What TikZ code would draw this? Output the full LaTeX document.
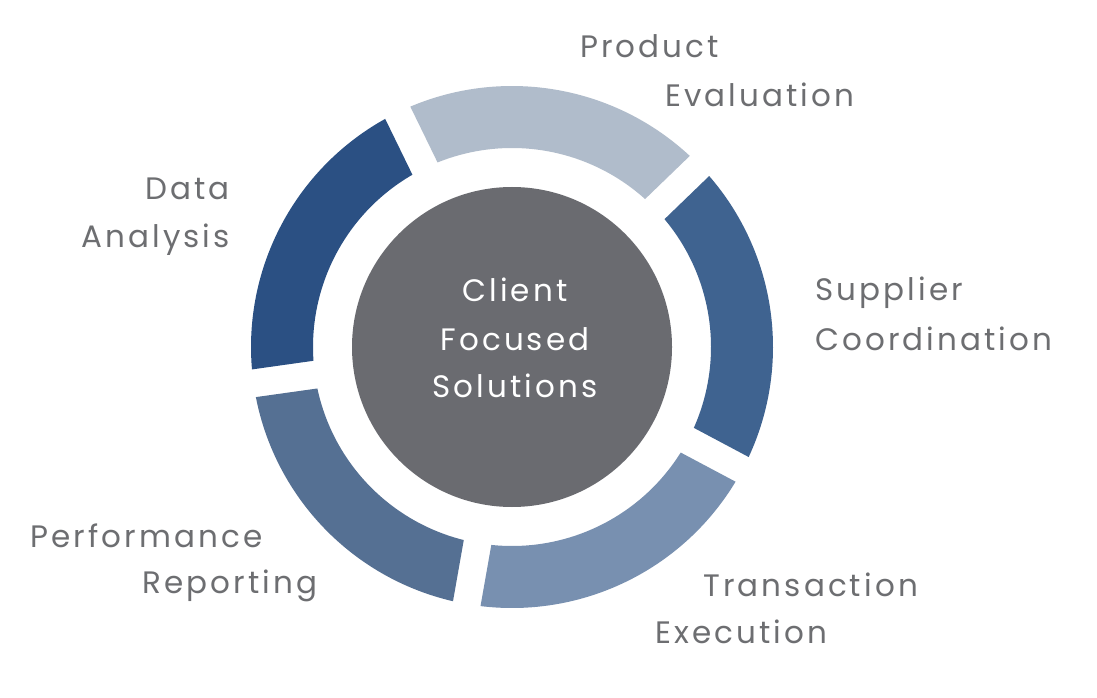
\documentclass[tikz,border=0pt]{standalone}
\usepackage{fontspec}
\setmainfont{Poppins}[LetterSpace=10]
\definecolor{txtgray}{HTML}{6D6E71}
\definecolor{hubgray}{HTML}{6A6B70}
\definecolor{segA}{HTML}{B0BCCB}
\definecolor{segB}{HTML}{3F6390}
\definecolor{segC}{HTML}{7890B0}
\definecolor{segD}{HTML}{557093}
\definecolor{segE}{HTML}{2B5083}
\begin{document}
\begin{tikzpicture}[x=1pt,y=1pt,
  lbl/.style={inner sep=0pt,text=txtgray,font=\fontsize{31}{36}\selectfont},
  hub/.style={circle,fill=hubgray,minimum size=320pt,inner sep=0pt},
  hubtext/.style={inner sep=0pt,text=white,font=\fontsize{31}{36}\selectfont}]
\useasboundingbox (0,0) rectangle (1097,697);
\fill[white] (0,0) rectangle (1097,697);
\begin{scope}[shift={(512,350)}]
  \def\ro{261}\def\ri{199}\def\dout{3.07}\def\din{4.03}
  % segments: gap angles 44,116,188,260,332,404
  \foreach \g/\c in {44/segA,116/segE,188/segD,260/segC,332/segB}{
    \pgfmathsetmacro\ga{\g+\dout}\pgfmathsetmacro\gb{\g+72-\dout}
    \pgfmathsetmacro\gc{\g+72-\din}\pgfmathsetmacro\gd{\g+\din}
    \fill[\c] (\ga:\ro) arc[start angle=\ga,end angle=\gb,radius=\ro]
      -- (\gc:\ri) arc[start angle=\gc,end angle=\gd,radius=\ri] -- cycle;
  }
  \node[hub] (hubc) at (0,0) {};
\end{scope}
\node[hubtext,anchor=base] (client) at (515,395) {Client};
\node[hubtext,anchor=base] (focused) at (515,347) {Focused};
\node[hubtext,anchor=base] (solutions) at (515,300) {Solutions};
\node[lbl,anchor=base west] (product) at (580,639) {Product};
\node[lbl,anchor=base west] (evaluation) at (665,590) {Evaluation};
\node[lbl,anchor=base east] (data) at (230,497) {Data};
\node[lbl,anchor=base east] (analysis) at (230,449) {Analysis};
\node[lbl,anchor=base west] (supplier) at (815,396) {Supplier};
\node[lbl,anchor=base west] (coordination) at (815,346) {Coordination};
\node[lbl,anchor=base west] (performance) at (30,150) {Performance};
\node[lbl,anchor=base west] (reporting) at (142,104) {Reporting};
\node[lbl,anchor=base west] (transaction) at (703,101) {Transaction};
\node[lbl,anchor=base west] (execution) at (655,54) {Execution};
\end{tikzpicture}
\end{document}
